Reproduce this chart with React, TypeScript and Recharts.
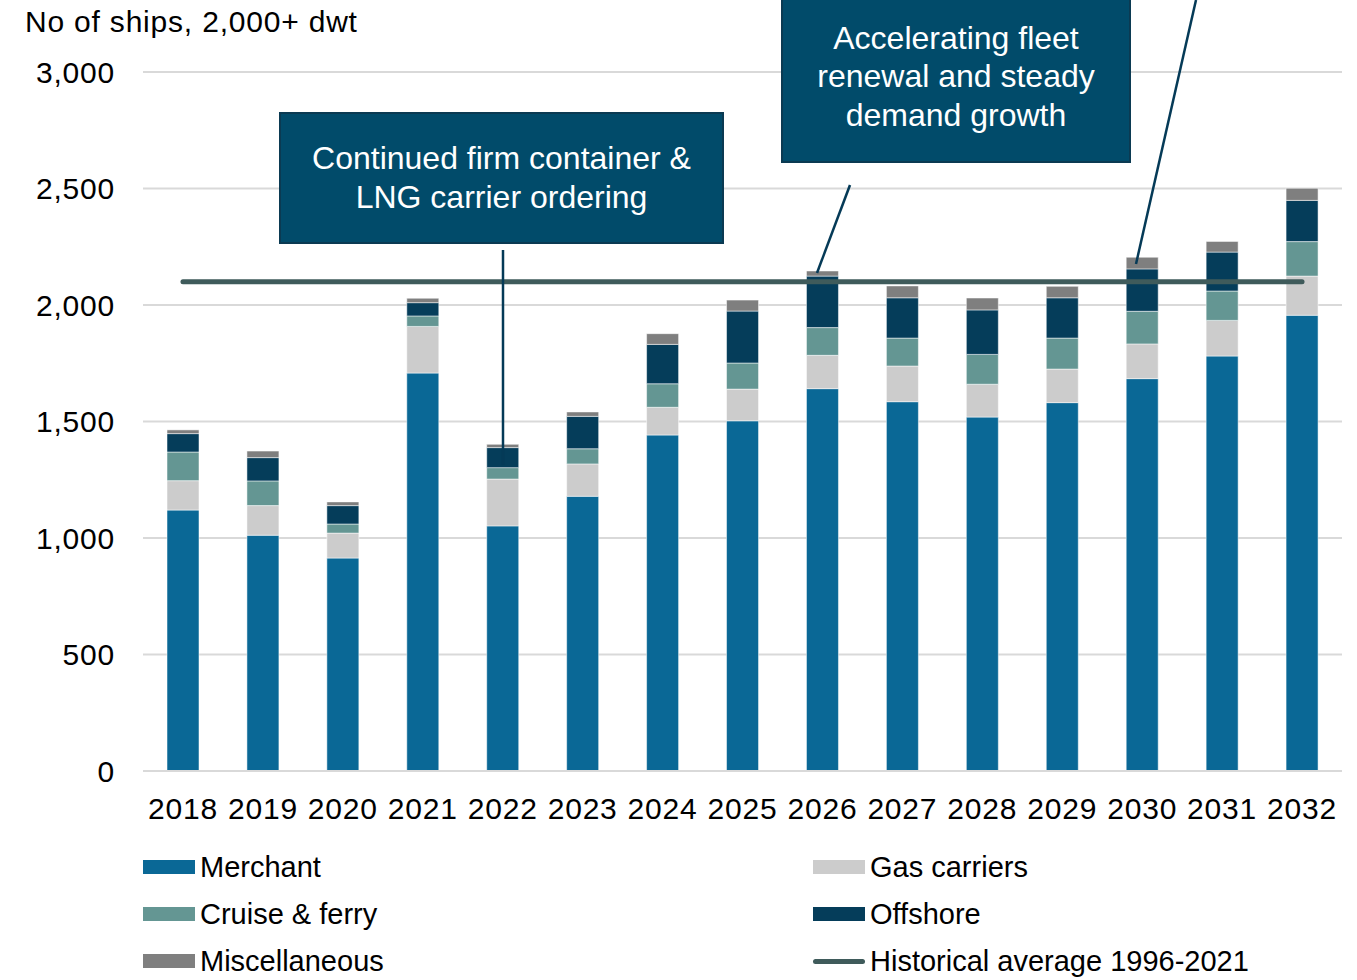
import React from 'react';
import {
  ComposedChart, Bar, Line, XAxis, YAxis, CartesianGrid
} from 'recharts';

const years = ['2018', '2019', '2020', '2021', '2022', '2023', '2024', '2025', '2026', '2027', '2028', '2029', '2030', '2031', '2032'];
const merchant = [1120, 1012, 914, 1708, 1052, 1179, 1442, 1503, 1641, 1585, 1519, 1581, 1684, 1781, 1956];
const gasCarriers = [126, 127, 107, 200, 201, 139, 119, 136, 143, 153, 141, 144, 149, 153, 168];
const cruiseFerry = [123, 106, 39, 45, 49, 65, 101, 112, 119, 120, 128, 133, 140, 126, 148];
const offshore = [79, 100, 79, 57, 86, 139, 169, 223, 221, 173, 191, 173, 182, 167, 177];
const misc = [16, 28, 16, 19, 14, 19, 46, 47, 22, 51, 51, 49, 50, 46, 52];
const historicalAvg = [2100, 2100, 2100, 2100, 2100, 2100, 2100, 2100, 2100, 2100, 2100, 2100, 2100, 2100, 2100];
const yTicks = [0, 500, 1000, 1500, 2000, 2500, 3000];

const C = {
  merchant: '#0a6896',
  gas: '#cccccc',
  cruise: '#649693',
  offshore: '#053d5a',
  misc: '#7f7f7f',
  hist: '#3f5b5b',
  box: '#014b6a',
  boxBorder: '#0b3a52',
  pointer: '#053a57',
};

const FONT = '"Liberation Sans", Arial, sans-serif';

const data = years.map((y, i) => ({
  year: y,
  merchant: merchant[i],
  gas: gasCarriers[i],
  cruise: cruiseFerry[i],
  offshore: offshore[i],
  misc: misc[i],
  hist: historicalAvg[i],
}));

const legendItems = [
  { name: 'Merchant', color: C.merchant, line: false },
  { name: 'Gas carriers', color: C.gas, line: false },
  { name: 'Cruise & ferry', color: C.cruise, line: false },
  { name: 'Offshore', color: C.offshore, line: false },
  { name: 'Miscellaneous', color: C.misc, line: false },
  { name: 'Historical average 1996-2021', color: C.hist, line: true },
];

const boxStyle: React.CSSProperties = {
  position: 'absolute',
  background: C.box,
  border: `2px solid ${C.boxBorder}`,
  color: '#fff',
  fontFamily: FONT,
  fontSize: 32,
  textAlign: 'center',
  boxSizing: 'border-box',
  display: 'flex',
  flexDirection: 'column',
  justifyContent: 'center',
};

const tickStyle = { fontSize: 30, fill: '#000', fontFamily: FONT, letterSpacing: 0.8 };

export default function App() {
  const barStroke = 'rgba(255,255,255,0.5)';
  return (
    <div style={{ position: 'absolute', left: 0, top: 0, width: 1357, height: 980, background: '#fff', overflow: 'hidden', fontFamily: FONT }}>
      <div style={{ position: 'absolute', left: 25, top: 5, fontSize: 30, letterSpacing: 0.8, color: '#000' }}>No of ships, 2,000+ dwt</div>
      <ComposedChart
        width={1357}
        height={980}
        data={data}
        margin={{ top: 72, right: 15, left: 0, bottom: 169 }}
        barSize={32}
      >
        <CartesianGrid stroke="#d9d9d9" strokeWidth={2} vertical={false} />
        <XAxis
          dataKey="year"
          height={40}
          axisLine={{ stroke: '#d9d9d9', strokeWidth: 2 }}
          tickLine={false}
          tickMargin={21}
          tick={tickStyle}
          interval={0}
        />
        <YAxis
          width={143}
          domain={[0, 3000]}
          ticks={yTicks}
          axisLine={false}
          tickLine={false}
          tickSize={0}
          tickMargin={28}
          tick={tickStyle}
          tickFormatter={(v) => v.toLocaleString('en-US')}
        />
        <Bar dataKey="merchant" stackId="a" fill={C.merchant} stroke={barStroke} strokeWidth={1} isAnimationActive={false} />
        <Bar dataKey="gas" stackId="a" fill={C.gas} stroke={barStroke} strokeWidth={1} isAnimationActive={false} />
        <Bar dataKey="cruise" stackId="a" fill={C.cruise} stroke={barStroke} strokeWidth={1} isAnimationActive={false} />
        <Bar dataKey="offshore" stackId="a" fill={C.offshore} stroke={barStroke} strokeWidth={1} isAnimationActive={false} />
        <Bar dataKey="misc" stackId="a" fill={C.misc} stroke={barStroke} strokeWidth={1} isAnimationActive={false} />
        <Line dataKey="hist" stroke={C.hist} strokeWidth={5} strokeLinecap="round" dot={false} activeDot={false} isAnimationActive={false} />
      </ComposedChart>

      {/* annotation pointers */}
      <svg width={1357} height={980} style={{ position: 'absolute', left: 0, top: 0, pointerEvents: 'none' }}>
        <line x1={503} y1={250} x2={503} y2={465} stroke={C.pointer} strokeWidth={2.5} />
        <line x1={850} y1={185} x2={817} y2={273} stroke={C.pointer} strokeWidth={2.5} />
        <line x1={1196} y1={0} x2={1136} y2={264} stroke={C.pointer} strokeWidth={2.5} />
      </svg>

      <div style={{ ...boxStyle, left: 279, top: 112, width: 445, height: 132, lineHeight: '39px' }}>
        <div>Continued firm container &amp;</div>
        <div>LNG carrier ordering</div>
      </div>
      <div style={{ ...boxStyle, left: 781, top: -4, width: 350, height: 167, lineHeight: '38.5px', paddingBottom: 6 }}>
        <div>Accelerating fleet</div>
        <div>renewal and steady</div>
        <div>demand growth</div>
      </div>

      {/* legend */}
      <div style={{ position: 'absolute', left: 143, top: 848, width: 1200, display: 'grid', gridTemplateColumns: '670px 530px', rowGap: 9 }}>
        {legendItems.map((it) => (
          <div key={it.name} style={{ display: 'flex', alignItems: 'center', height: 38, fontSize: 29, color: '#000' }}>
            {it.line ? (
              <div style={{ width: 52, height: 5, background: it.color, borderRadius: 3, marginRight: 5 }} />
            ) : (
              <div style={{ width: 52, height: 14, background: it.color, marginRight: 5 }} />
            )}
            <span>{it.name}</span>
          </div>
        ))}
      </div>
    </div>
  );
}
